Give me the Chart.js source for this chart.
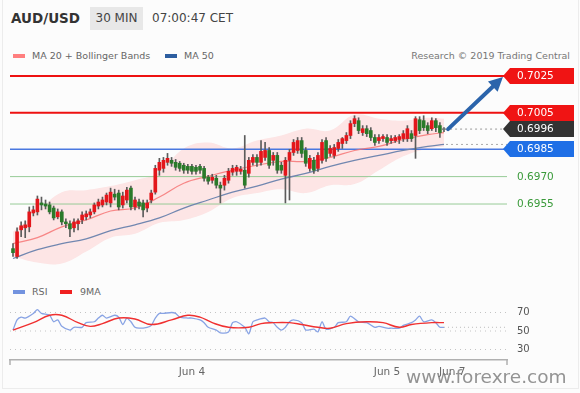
<!DOCTYPE html>
<html>
<head>
<meta charset="utf-8">
<script src="https://cdn.jsdelivr.net/npm/chart.js@4.4.1/dist/chart.umd.min.js"></script>
<style>
  body { margin: 0; background: #fcfcfc; font-family: "DejaVu Sans", sans-serif; }
  #wrap { position: relative; width: 580px; height: 393px; background: #fcfcfc; overflow: hidden; }
  .abs { position: absolute; white-space: nowrap; }
  .hdr { top: 7px; height: 23px; line-height: 23px; font-size: 12px; color: #444; }
  .leg { font-size: 9.5px; color: #666; line-height: 12px; }
  .sw { position: absolute; width: 12px; height: 4px; }
  canvas { position: absolute; left: 0; }
</style>
</head>
<body>
<div id="wrap">
  <div class="abs" style="left:2px;top:-1px;width:575px;height:388px;border:1px solid #ececec;"></div>

  <div class="abs hdr" style="left:11px;font-weight:bold;font-size:13.5px;color:#333;">AUD/USD</div>
  <div class="abs hdr" style="left:90px;width:53px;text-align:center;background:#e8e8e8;">30 MIN</div>
  <div class="abs hdr" style="left:152px;">07:00:47 CET</div>

  <div class="sw" style="left:13px;top:54px;background:#ff7f7f;"></div>
  <div class="abs leg" style="left:32px;top:50px;">MA 20 + Bollinger Bands</div>
  <div class="sw" style="left:165px;top:54px;background:#2d5ea0;"></div>
  <div class="abs leg" style="left:184px;top:50px;">MA 50</div>
  <div class="abs leg" style="right:10px;top:50px;color:#777;">Research © 2019 Trading Central</div>

  <canvas id="main" width="580" height="280" style="top:0;"></canvas>

  <div class="sw" style="left:13px;top:290px;background:#7393df;"></div>
  <div class="abs leg" style="left:32px;top:286px;">RSI</div>
  <div class="sw" style="left:60px;top:290px;background:#f02020;"></div>
  <div class="abs leg" style="left:80px;top:286px;">9MA</div>

  <canvas id="rsi" width="580" height="113" style="top:280px;"></canvas>

  <div class="abs" style="left:406px;top:366px;font-size:18.5px;color:rgba(120,120,120,0.8);">www.forexre.com</div>
</div>

<script>
// 30 min candles, AUD/USD
const candleOpen = [0.69306,0.69263,0.69409,0.69420,0.69425,0.69501,0.69507,0.69556,0.69550,0.69545,
  0.69528,0.69480,0.69507,0.69452,0.69442,0.69420,0.69442,0.69463,0.69480,0.69490,
  0.69507,0.69539,0.69545,0.69561,0.69556,0.69604,0.69610,0.69545,0.69572,0.69637,
  0.69534,0.69561,0.69556,0.69528,0.69572,0.69615,0.69735,0.69745,0.69778,0.69789,
  0.69778,0.69773,0.69762,0.69756,0.69756,0.69751,0.69756,0.69745,0.69697,0.69680,
  0.69691,0.69653,0.69653,0.69680,0.69724,0.69729,0.69729,0.69735,0.69718,0.69778,
  0.69805,0.69778,0.69805,0.69843,0.69789,0.69816,0.69762,0.69707,0.69789,0.69832,
  0.69843,0.69897,0.69843,0.69745,0.69789,0.69745,0.69789,0.69897,0.69827,0.69816,
  0.69854,0.69881,0.69897,0.69925,0.69990,0.70006,0.69941,0.69962,0.69952,0.69914,
  0.69897,0.69908,0.69914,0.69897,0.69897,0.69903,0.69908,0.69908,0.69935,0.69925,
  0.70011,0.70006,0.69979,0.69962,0.70006,0.69979,0.69957];
const candleHigh = [0.69333,0.69420,0.69452,0.69458,0.69534,0.69539,0.69594,0.69588,0.69572,0.69561,
  0.69539,0.69523,0.69518,0.69469,0.69458,0.69469,0.69469,0.69507,0.69512,0.69523,
  0.69556,0.69577,0.69588,0.69610,0.69637,0.69631,0.69626,0.69615,0.69642,0.69648,
  0.69588,0.69577,0.69572,0.69572,0.69626,0.69762,0.69800,0.69805,0.69827,0.69805,
  0.69794,0.69783,0.69773,0.69767,0.69767,0.69762,0.69767,0.69756,0.69707,0.69713,
  0.69707,0.69670,0.69707,0.69745,0.69762,0.69762,0.69756,0.69925,0.69805,0.69821,
  0.69821,0.69897,0.69887,0.69859,0.69832,0.69832,0.69778,0.69805,0.69849,0.69903,
  0.69914,0.69914,0.69859,0.69816,0.69805,0.69832,0.69903,0.69914,0.69870,0.69876,
  0.69903,0.69914,0.69941,0.70006,0.70033,0.70022,0.69979,0.69979,0.69968,0.69930,
  0.69930,0.69930,0.69930,0.69925,0.69925,0.69930,0.69952,0.69979,0.69952,0.70028,
  0.70028,0.70033,0.69995,0.70022,0.70017,0.69995,0.69968];
const candleLow = [0.69263,0.69252,0.69371,0.69366,0.69398,0.69485,0.69490,0.69518,0.69523,0.69496,
  0.69463,0.69469,0.69436,0.69420,0.69371,0.69398,0.69409,0.69442,0.69463,0.69474,
  0.69496,0.69523,0.69534,0.69545,0.69534,0.69572,0.69518,0.69528,0.69556,0.69518,
  0.69518,0.69523,0.69480,0.69507,0.69556,0.69604,0.69707,0.69724,0.69762,0.69756,
  0.69735,0.69729,0.69718,0.69718,0.69713,0.69713,0.69718,0.69675,0.69659,0.69664,
  0.69637,0.69556,0.69626,0.69664,0.69707,0.69707,0.69713,0.69637,0.69697,0.69762,
  0.69756,0.69762,0.69789,0.69745,0.69762,0.69718,0.69718,0.69556,0.69572,0.69816,
  0.69827,0.69805,0.69756,0.69729,0.69718,0.69729,0.69773,0.69783,0.69811,0.69800,
  0.69838,0.69854,0.69881,0.69908,0.69973,0.69935,0.69925,0.69919,0.69897,0.69870,
  0.69881,0.69892,0.69870,0.69881,0.69887,0.69881,0.69892,0.69892,0.69892,0.69800,
  0.69935,0.69952,0.69935,0.69952,0.69946,0.69914,0.69946];
const candleClose = [0.69284,0.69398,0.69431,0.69436,0.69507,0.69518,0.69577,0.69545,0.69539,0.69507,
  0.69474,0.69507,0.69452,0.69442,0.69414,0.69452,0.69458,0.69490,0.69496,0.69507,
  0.69545,0.69561,0.69572,0.69599,0.69615,0.69588,0.69534,0.69594,0.69626,0.69534,
  0.69572,0.69539,0.69518,0.69556,0.69610,0.69745,0.69778,0.69789,0.69800,0.69773,
  0.69751,0.69745,0.69735,0.69735,0.69729,0.69729,0.69735,0.69691,0.69675,0.69697,
  0.69653,0.69637,0.69691,0.69729,0.69745,0.69751,0.69740,0.69653,0.69789,0.69805,
  0.69778,0.69838,0.69843,0.69762,0.69816,0.69735,0.69735,0.69789,0.69832,0.69887,
  0.69897,0.69827,0.69773,0.69800,0.69735,0.69816,0.69887,0.69800,0.69854,0.69859,
  0.69887,0.69908,0.69925,0.69990,0.70017,0.69952,0.69962,0.69935,0.69914,0.69887,
  0.69914,0.69919,0.69887,0.69908,0.69914,0.69919,0.69935,0.69962,0.69908,0.70017,
  0.69952,0.69968,0.69952,0.70006,0.69968,0.69941,0.69957];

// moving averages and bands, read at every 6th candle
const bandIdx = [0,6,12,18,24,30,36,42,48,54,60,66,72,78,84,90,96,102,106];
const ma20 = [0.69333,0.69366,0.69425,0.69463,0.69512,0.69528,0.69588,0.69664,0.69702,0.69735,
  0.69762,0.69783,0.69783,0.69805,0.69843,0.69865,0.69903,0.69930,0.69941];
const ma50 = [0.69252,0.69300,0.69333,0.69360,0.69404,0.69436,0.69474,0.69528,0.69572,0.69615,
  0.69648,0.69686,0.69718,0.69756,0.69789,0.69816,0.69843,0.69865,0.69876];
const bbUpper = [0.69398,0.69507,0.69615,0.69626,0.69648,0.69680,0.69724,0.69854,0.69887,0.69854,
  0.69897,0.69925,0.69962,0.69952,0.70038,0.70017,0.70006,0.70022,0.70017];
const bbLower = [0.69263,0.69230,0.69225,0.69290,0.69366,0.69387,0.69447,0.69463,0.69507,0.69583,
  0.69610,0.69631,0.69610,0.69653,0.69659,0.69735,0.69811,0.69854,0.69865];

// key levels
const resistance = [0.7025, 0.7005];
const lastPrice = 0.6996;
const support = [0.6985, 0.6970, 0.6955];
const arrowFrom = [107, 0.6996];
const arrowTo = [120.5, 0.70245];

// RSI panel
const rsiIdx = [0,1,2,3,5,6,7,9,10,11,12,14,15,17,18,20,21,22,23,25,26,27,28,29,30,31,33,34,35,36,
  37,39,40,41,43,44,46,47,48,50,51,53,54,55,57,58,59,60,62,63,64,65,66,67,68,69,71,72,74,75,
  76,77,79,80,82,83,85,87,89,90,92,93,95,96,98,99,100,101,103,104,105,106];
const rsiVal = [51,62,65,64,69,73,69,67,60,62,55,51,54,54,59,60,64,67,64,67,65,57,64,60,54,53,54,56,64,69,
  69,70,69,65,64,64,62,59,54,51,48,49,59,60,54,47,60,62,64,60,59,54,51,54,60,62,59,51,52,49,
  60,52,54,59,60,66,60,59,54,55,53,53,53,56,59,62,66,60,62,59,54,54];
const rsiMaIdx = [0,5,9,12,16,19,22,26,30,34,39,43,46,49,53,58,61,64,68,71,75,78,82,87,91,95,98,103,106];
const rsiMaVal = [51,59,67,67,59,55,58,64,63,57,62,67,65,59,54,54,58,59,59,57,54,53,58,60,59,54,57,59,59];
const rsiTicks = [30, 50, 70];

const dateTickIdx = [44, 92, 108];
const dateTickLabels = ['Jun 4', 'Jun 5', 'Jun 7'];

// axis window (candle index units)
const XMIN = -0.74, XMAX = 121.5;
const RED = '#e3161b', GREEN = '#2a7a2a';

const pts = (xs, ys) => xs.map((x, i) => ({ x: x, y: ys[i] }));
const flat = (v, from, to) => [{ x: from, y: v }, { x: to, y: v }];

const idx = candleClose.map((_, i) => i);
const bodyData = idx.map(i => ({ x: i, y: [candleOpen[i], candleClose[i]] }));
const wickData = idx.map(i => ({ x: i, y: [candleLow[i], candleHigh[i]] }));
const bodyColors = idx.map(i => candleClose[i] > candleOpen[i] ? RED : (candleClose[i] < candleOpen[i] ? GREEN : '#777'));

const levelLines = [
  { v: resistance[0], color: '#ee1111', w: 2 },
  { v: resistance[1], color: '#ee1111', w: 2 },
  { v: support[0], color: '#4a78e0', w: 1.5 },
  { v: support[1], color: '#98cc98', w: 1 },
  { v: support[2], color: '#98cc98', w: 1 }
].map(l => ({ type: 'line', data: flat(l.v, XMIN, XMAX), borderColor: l.color, borderWidth: l.w, pointRadius: 0 }));

const tags = [
  { v: resistance[0], bg: '#f01414', fg: '#fff' },
  { v: resistance[1], bg: '#f01414', fg: '#fff' },
  { v: lastPrice, bg: '#333', fg: '#fff' },
  { v: support[0], bg: '#1f6fe6', fg: '#fff' },
  { v: support[1], bg: null, fg: '#3a9a3a' },
  { v: support[2], bg: null, fg: '#3a9a3a' }
];

const overlay = {
  id: 'overlay',
  afterDatasetsDraw(chart) {
    const { ctx, chartArea } = chart;
    const xs = chart.scales.x, ys = chart.scales.y;
    // forecast arrow
    const x0 = xs.getPixelForValue(arrowFrom[0]), y0 = ys.getPixelForValue(arrowFrom[1]);
    const x1 = xs.getPixelForValue(arrowTo[0]), y1 = ys.getPixelForValue(arrowTo[1]);
    const a = Math.atan2(y1 - y0, x1 - x0), head = 14, half = 7;
    const bx = x1 - head * Math.cos(a), by = y1 - head * Math.sin(a);
    ctx.save();
    ctx.strokeStyle = '#2b64ab';
    ctx.fillStyle = '#2b64ab';
    ctx.lineWidth = 4;
    ctx.lineCap = 'round';
    ctx.beginPath();
    ctx.moveTo(x0, y0);
    ctx.lineTo(bx + 2 * Math.cos(a), by + 2 * Math.sin(a));
    ctx.stroke();
    ctx.beginPath();
    ctx.moveTo(x1, y1);
    ctx.lineTo(bx + half * Math.sin(a), by - half * Math.cos(a));
    ctx.lineTo(bx - half * Math.sin(a), by + half * Math.cos(a));
    ctx.closePath();
    ctx.fill();

    // price tags
    ctx.font = '10.5px "DejaVu Sans"';
    ctx.textBaseline = 'middle';
    ctx.textAlign = 'left';
    tags.forEach(t => {
      const py = Math.round(ys.getPixelForValue(t.v));
      if (t.bg) {
        ctx.fillStyle = t.bg;
        ctx.beginPath();
        ctx.moveTo(chartArea.right - 4, py);
        ctx.lineTo(chartArea.right + 3, py - 8);
        ctx.lineTo(574, py - 8);
        ctx.lineTo(574, py + 8);
        ctx.lineTo(chartArea.right + 3, py + 8);
        ctx.closePath();
        ctx.fill();
      }
      ctx.fillStyle = t.fg;
      ctx.fillText(t.v.toFixed(4), 517, py + 0.5);
    });
    ctx.restore();
  }
};

new Chart(document.getElementById('main'), {
  type: 'bar',
  data: {
    datasets: [
      { data: bodyData, backgroundColor: bodyColors, barThickness: 3, grouped: false, minBarLength: 1, borderWidth: 0 },
      { data: wickData, backgroundColor: '#5c5c5c', barThickness: 1, grouped: false, borderWidth: 0 },
      { type: 'line', data: pts(bandIdx, ma20), borderColor: 'rgba(245,110,110,0.8)', borderWidth: 1.2, pointRadius: 0, tension: 0.4 },
      { type: 'line', data: pts(bandIdx, ma50), borderColor: '#7187b0', borderWidth: 1.3, pointRadius: 0, tension: 0.4 },
      { type: 'line', data: flat(lastPrice, 107.5, XMAX), borderColor: '#999', borderWidth: 1, borderDash: [2, 3], pointRadius: 0 },
      { type: 'line', data: flat(ma50[ma50.length - 1], 106.5, XMAX), borderColor: '#aaa', borderWidth: 1, borderDash: [2, 3], pointRadius: 0 },
      ...levelLines,
      { type: 'line', data: pts(bandIdx, bbUpper), borderWidth: 0, pointRadius: 0, tension: 0.4, fill: '+1', backgroundColor: 'rgba(255,160,160,0.25)' },
      { type: 'line', data: pts(bandIdx, bbLower), borderWidth: 0, pointRadius: 0, tension: 0.4 }
    ]
  },
  options: {
    responsive: false,
    animation: false,
    layout: { padding: { top: 62, bottom: 12, left: 10, right: 73 } },
    plugins: { legend: { display: false }, tooltip: { enabled: false } },
    scales: {
      x: { type: 'linear', min: XMIN, max: XMAX, offset: false, display: false },
      y: { min: 0.6920, max: 0.70327, display: false }
    }
  },
  plugins: [overlay]
});

const endTicks = {
  id: 'endTicks',
  afterDraw(chart) {
    const { ctx, chartArea } = chart;
    ctx.save();
    ctx.strokeStyle = '#b0b0b0';
    ctx.lineWidth = 1.5;
    [chartArea.left, chartArea.right].forEach(x => {
      ctx.beginPath();
      ctx.moveTo(x, chartArea.bottom);
      ctx.lineTo(x, chartArea.bottom + 5);
      ctx.stroke();
    });
    ctx.restore();
  }
};

new Chart(document.getElementById('rsi'), {
  type: 'line',
  data: {
    datasets: [
      { data: pts(rsiMaIdx, rsiMaVal), borderColor: '#f03030', borderWidth: 1.4, pointRadius: 0, tension: 0.4 },
      { data: pts(rsiIdx, rsiVal), borderColor: '#88a3e4', borderWidth: 1.3, pointRadius: 0, tension: 0.25 },
      { data: flat(rsiVal[rsiVal.length - 1], 106, XMAX), borderColor: '#bbb', borderWidth: 1, borderDash: [1, 3], pointRadius: 0 },
      ...rsiTicks.map(t => ({ data: flat(t, XMIN, XMAX), borderColor: '#c4c4c4', borderWidth: 1, borderDash: [1, 4], pointRadius: 0 }))
    ]
  },
  options: {
    responsive: false,
    animation: false,
    layout: { padding: { top: 20, left: 10, right: 0, bottom: 0 } },
    plugins: { legend: { display: false }, tooltip: { enabled: false } },
    scales: {
      x: {
        type: 'linear', min: XMIN, max: XMAX, offset: false,
        afterBuildTicks: ax => { ax.ticks = dateTickIdx.map(v => ({ value: v })); },
        afterFit: ax => { ax.height = 33; },
        ticks: {
          autoSkip: false, maxRotation: 0, padding: 6, color: '#666',
          font: { family: 'DejaVu Sans', size: 10.5 },
          callback: (v, i) => dateTickLabels[i]
        },
        grid: { display: false, drawTicks: false },
        border: { display: true, color: '#b0b0b0', width: 1.5 }
      },
      y: {
        position: 'right', min: 18.65, max: 83.5,
        afterBuildTicks: ax => { ax.ticks = rsiTicks.map(v => ({ value: v })); },
        afterFit: ax => { ax.width = 73; },
        ticks: { padding: 10, color: '#555', font: { family: 'DejaVu Sans', size: 10 } },
        grid: { display: false, drawTicks: false },
        border: { display: false }
      }
    }
  },
  plugins: [endTicks]
});
</script>
</body>
</html>
